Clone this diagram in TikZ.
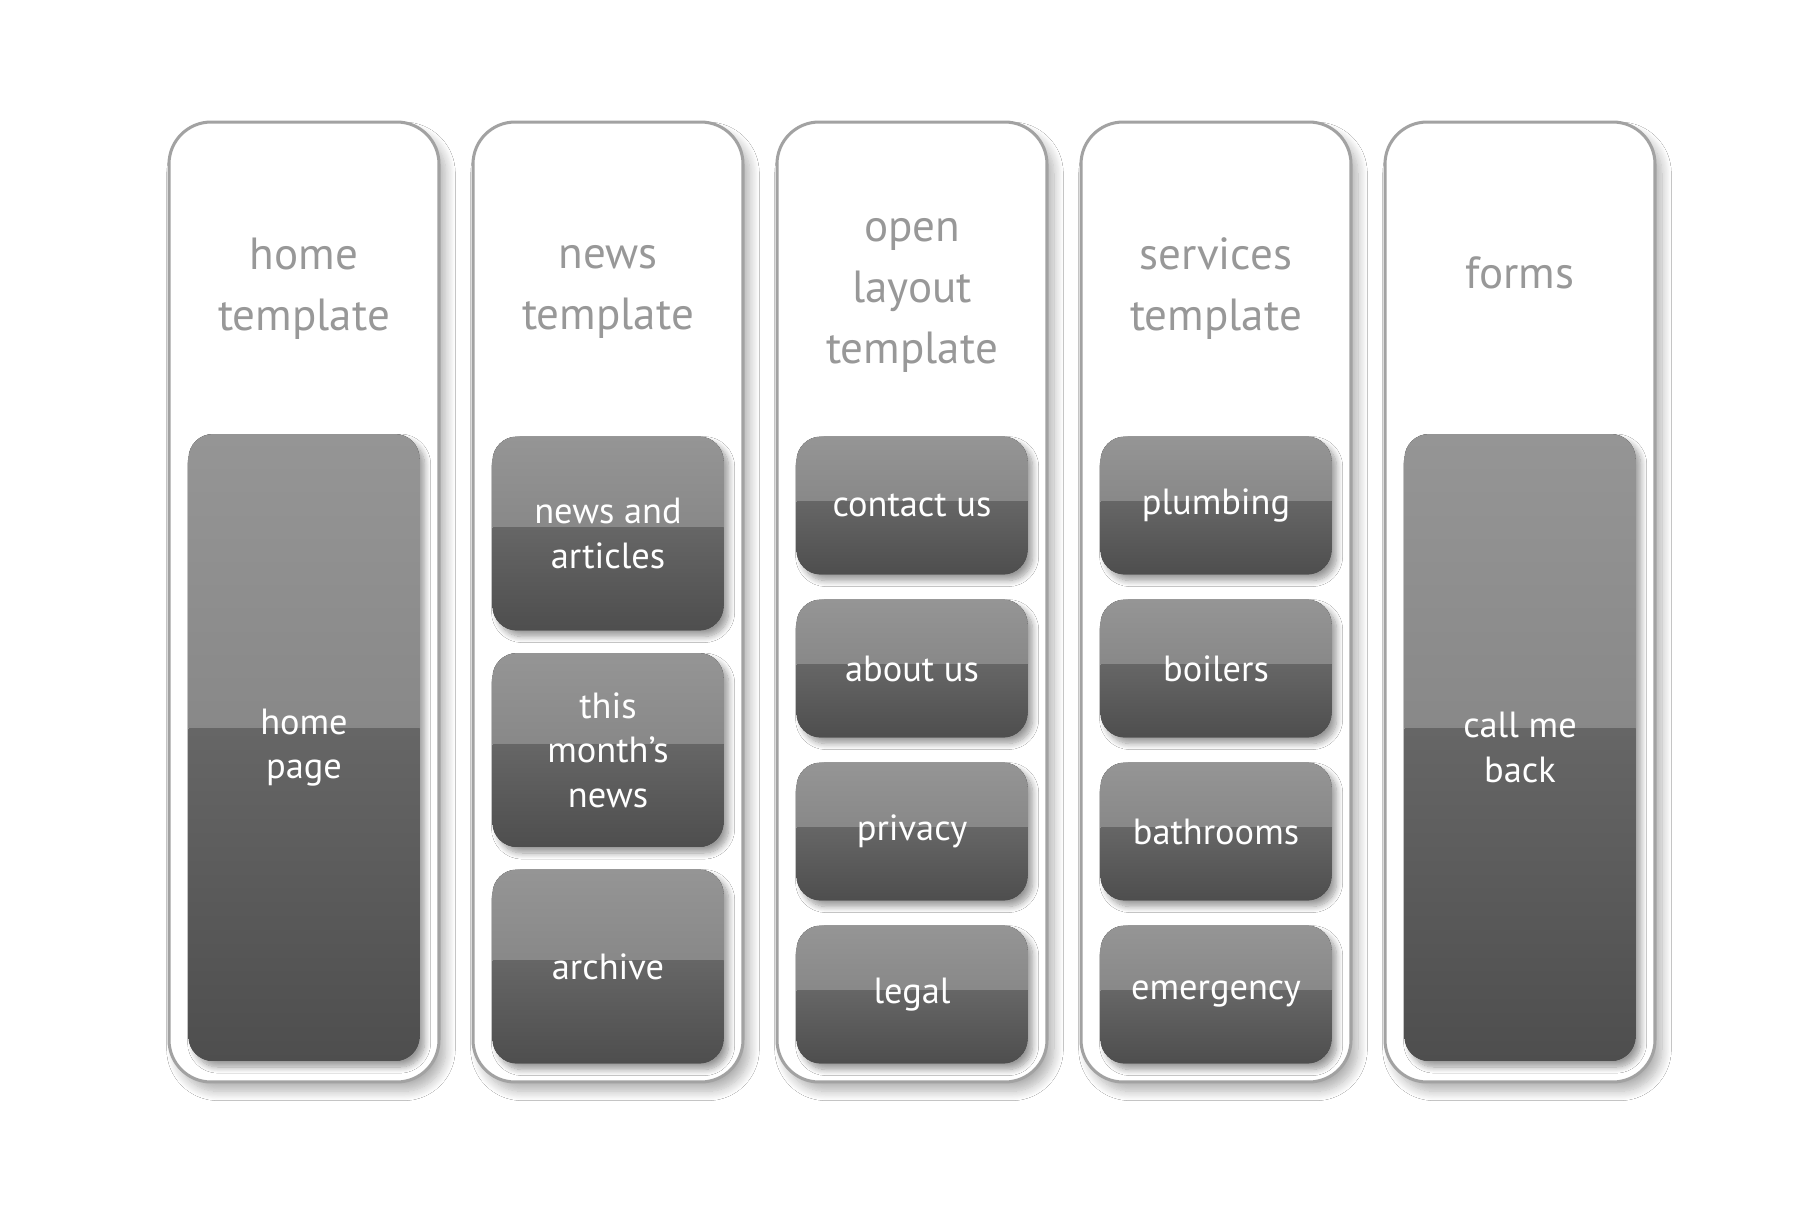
\documentclass[tikz,border=0pt]{standalone}
\usepackage{fontspec}
\setmainfont{PT Sans}
\usetikzlibrary{shadows.blur,calc}
\definecolor{titlegray}{HTML}{989898}
\definecolor{bordergray}{HTML}{A2A2A2}
\definecolor{gA}{HTML}{959595}
\definecolor{gB}{HTML}{7A7A7A}
\definecolor{gC}{HTML}{666666}
\definecolor{gD}{HTML}{4E4E4E}
\tikzset{
  column/.style={draw=bordergray, line width=1.3pt, fill=white, rounded corners=18pt,
    minimum width=115.7pt, minimum height=411.4pt, inner sep=0pt,
    blur shadow={shadow xshift=3pt, shadow yshift=-4pt, shadow blur radius=4pt,
      shadow blur steps=12, shadow opacity=30}},
  title/.style={text=titlegray, font=\fontsize{19.3}{26}\selectfont, align=center},
  btn/.style={rounded corners=10.5pt, minimum width=99pt, inner sep=0pt, fill=gD,
    text=white, font=\fontsize{15.6}{19}\selectfont, align=center,
    blur shadow={shadow xshift=2.2pt, shadow yshift=-2.6pt, shadow blur radius=2.6pt,
      shadow blur steps=10, shadow opacity=40},
    path picture={
      \fill[sharp corners, top color=gA, bottom color=gB]
        (path picture bounding box.north west) rectangle
        ($(path picture bounding box.north east)!0.47!(path picture bounding box.south east)$);
      \fill[sharp corners, top color=gC, bottom color=gD]
        ($(path picture bounding box.north west)!0.47!(path picture bounding box.south west)$)
        rectangle (path picture bounding box.south east);
    }},
  small/.style={btn, minimum height=59.1pt},
  mid/.style={btn, minimum height=83.1pt},
  tall/.style={btn, minimum height=268.7pt},
}
\begin{document}
\begin{tikzpicture}[x=0.428571pt, y=-0.428571pt]
\useasboundingbox (0,0) rectangle (1820,1225);
\fill[white] (0,0) rectangle (1820,1225);

\node[column] (c1) at (304,602) {};
\node[column] (c2) at (608,602) {};
\node[column] (c3) at (912,602) {};
\node[column] (c4) at (1216,602) {};
\node[column] (c5) at (1520,602) {};

\node[title] (t1) at (304,288.7) {home\\template};
\node[title] (t2) at (608,292.2) {news\\template};
\node[title] (t3) at (912,295.4) {open\\layout\\template};
\node[title] (t4) at (1216,288.7) {services\\template};
\node[title] (t5) at (1520,273) {forms};

\node[tall] (homepage) at (304,747.5) {home\\page};

\node[mid] (news) at (608,533.5) {news and\\articles};
\node[mid] (month) at (608,750) {this\\month’s\\news};
\node[mid] (archive) at (608,966.5) {archive};

\node[small] (contact) at (912,505.5) {contact us};
\node[small] (about) at (912,668.5) {about us};
\node[small] (privacy) at (912,831.5) {privacy};
\node[small] (legal) at (912,994.5) {legal};

\node[small] (plumbing) at (1216,505.5) {plumbing};
\node[small] (boilers) at (1216,668.5) {boilers};
\node[small] (bathrooms) at (1216,831.5) {bathrooms};
\node[small] (emergency) at (1216,994.5) {emergency};

\node[tall] (callback) at (1520,747.5) {call me\\back};
\end{tikzpicture}
\end{document}
